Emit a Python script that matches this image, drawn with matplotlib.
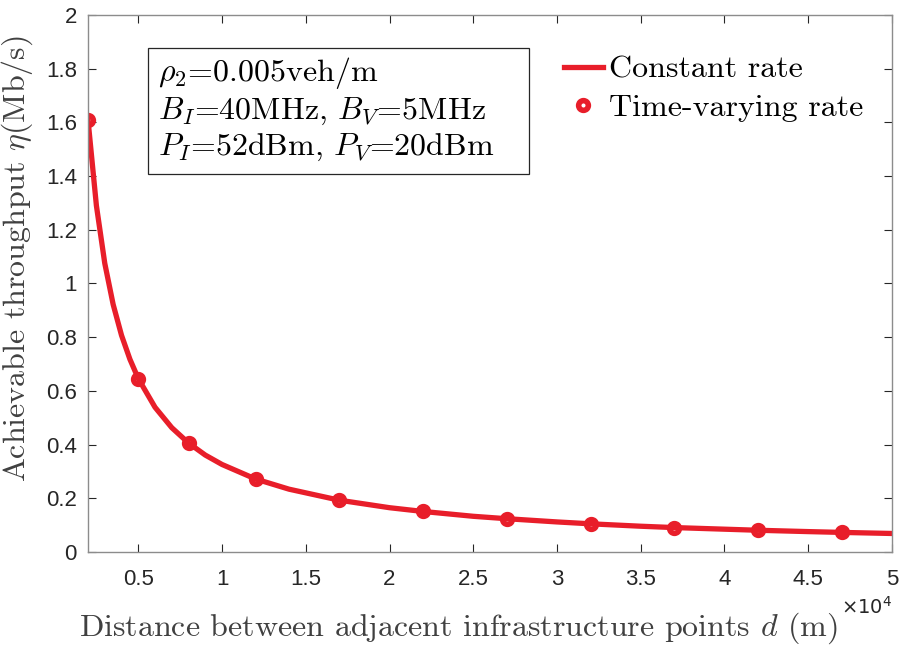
import numpy as np
import matplotlib.pyplot as plt
from matplotlib.patches import Rectangle
from matplotlib.ticker import FixedLocator, FuncFormatter

plt.rcParams['mathtext.fontset'] = 'cm'
plt.rcParams['axes.unicode_minus'] = False

# Constant rate curve
d_line = [2000, 2500, 3000, 3500, 4000, 4500, 5000, 6000, 7000, 8000, 9000, 10000,
          12000, 14000, 17000, 20000, 22000, 25000, 27000, 30000, 32000, 35000,
          37000, 40000, 42000, 45000, 47000, 50000]
eta_line = [1.609, 1.29, 1.075, 0.922, 0.807, 0.718, 0.646, 0.539, 0.463, 0.406, 0.361, 0.326,
            0.272, 0.234, 0.193, 0.165, 0.151, 0.133, 0.124, 0.112, 0.105, 0.096,
            0.091, 0.085, 0.081, 0.076, 0.073, 0.069]

# Time-varying rate points
d_pts = [2000, 5000, 8000, 12000, 17000, 22000, 27000, 32000, 37000, 42000, 47000]
eta_pts = [1.609, 0.646, 0.406, 0.272, 0.193, 0.151, 0.124, 0.105, 0.091, 0.081, 0.073]

red = '#E81E2A'
serif = 'cmr10'
tickfont = 'Liberation Sans'

fig = plt.figure(figsize=(9.01, 6.46), dpi=100)
ax = fig.add_axes([0.0977, 0.1455, 0.8923, 0.8313])

ax.plot(d_line, eta_line, '-', color=red, linewidth=3.8, label='Constant rate')
ax.plot(d_pts, eta_pts, 'o', color=red, markerfacecolor='none', markeredgewidth=4,
        markersize=7, label='Time-varying rate')

ax.set_xlim(2000, 50000)
ax.set_ylim(0, 2)
ax.xaxis.set_major_locator(FixedLocator(np.arange(5000, 50001, 5000)))
ax.xaxis.set_major_formatter(FuncFormatter(lambda v, p: '%g' % (v / 1e4)))
ax.yaxis.set_major_locator(FixedLocator(np.arange(0, 2.01, 0.2)))
ax.yaxis.set_major_formatter(FuncFormatter(lambda v, p: '%g' % round(v, 1)))

ax.tick_params(direction='in', top=True, right=True, length=6, width=0.8,
               color='#262626', labelsize=16, labelcolor='#262626')
ax.tick_params(axis='x', pad=12)
ax.tick_params(axis='y', pad=8)
for lab in ax.get_xticklabels() + ax.get_yticklabels():
    lab.set_fontfamily(tickfont)
for s in ax.spines.values():
    s.set_color('#8c8c8c')
    s.set_linewidth(1.0)

ax.set_xlabel(r'Distance between adjacent infrastructure points $d$ (m)',
              fontfamily=serif, fontsize=23, color='#404040')
ax.xaxis.set_label_coords(0.461, -0.108)
ax.set_ylabel(r'Achievable throughput $\eta$(Mb/s)',
              fontfamily=serif, fontsize=23, color='#404040')
ax.yaxis.set_label_coords(-0.066, 0.547)
ax.text(1.0, -0.102, r'$\times10^4$', transform=ax.transAxes, ha='right', va='center',
        math_fontfamily='dejavusans', fontsize=14, color='#262626')

info = (r'$\rho_2$=0.005veh/m' '\n'
        r'$B_I$=40MHz, $B_V$=5MHz' '\n'
        r'$P_I$=52dBm, $P_V$=20dBm')
ax.add_patch(Rectangle((0.0746, 0.704), 0.474, 0.2346, transform=ax.transAxes,
                       facecolor='white', edgecolor='#262626', linewidth=0.9, zorder=3))
ax.text(0.087, 0.925, info, transform=ax.transAxes, ha='left', va='top',
        fontfamily=serif, fontsize=23, linespacing=1.2, zorder=4)

leg = ax.legend(loc='upper right', bbox_to_anchor=(1.0, 0.978), frameon=False,
                prop={'family': serif, 'size': 23}, handlelength=1.2,
                handletextpad=0.2, labelspacing=0.3)

fig.savefig('out.png', dpi=100)
